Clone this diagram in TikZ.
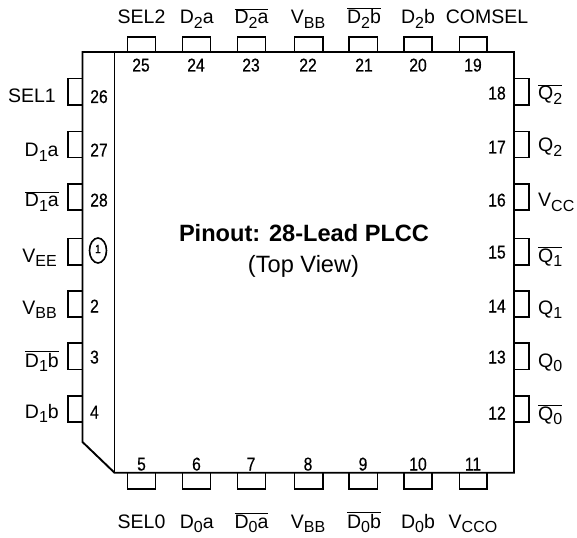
\documentclass[tikz,border=0pt]{standalone}
\usepackage{fontspec}
\usetikzlibrary{shapes.geometric}
\setmainfont{Liberation Sans}
\newfontfamily\numfont[FakeStretch=0.85,FakeBold=0.4]{Liberation Sans}
\newcommand{\sbs}[1]{\raisebox{-0.25em}{\fontsize{16}{16}\selectfont #1}}
\newcommand{\ovl}[1]{$\overline{\hbox{#1}}$}
\tikzset{
  body/.style={line width=1.9pt,line join=miter,line cap=butt,black},
  lab/.style={inner sep=0pt,font=\fontsize{19.5}{20}\selectfont,text=black},
  num/.style={inner sep=0pt,anchor=base,font=\numfont\fontsize{18.5}{18}\selectfont,text=black}
}
\begin{document}
\begin{tikzpicture}[x=1pt,y=-1pt]
\useasboundingbox (0,0) rectangle (577,537);
% package outline
\draw[body] (82.5,52) -- (514,52) -- (514,472.7) -- (114.5,472.7) -- (82.5,442) -- cycle;
\draw[body] (114.5,52) -- (114.5,472.7);
% top and bottom leads
\foreach \a/\b in {127.5/155.5,182.5/210.5,237.5/265.5,294.5/323,349/377.5,404/432,459.5/487}{
  \draw[body] (\a,52) -- (\a,37) -- (\b,37) -- (\b,52);
  \draw[body] (\a,472.7) -- (\a,488.7) -- (\b,488.7) -- (\b,472.7);
}
% left and right leads
\foreach \a/\b in {78.5/105,131.5/157.5,184/210,238.5/265,290.7/317,343/369.5,396/422}{
  \draw[body] (82.5,\a) -- (68,\a) -- (68,\b) -- (82.5,\b);
  \draw[body] (514,\a) -- (529,\a) -- (529,\b) -- (514,\b);
}
% pin numbers
\foreach \n/\x/\y in {25/141/71.5,24/196/71.5,23/251/71.5,22/308/71.5,21/364/71.5,20/418/71.5,19/473/71.5,
  5/141.5/470.5,6/196.5/470.5,7/251/470.5,8/308/470.5,9/363/470.5,10/418/470.5,11/473/470.5,
  26/99/103,27/99/156.5,28/99/206.5,2/94.5/312.5,3/94.5/363.5,4/94.5/418.5,
  18/497/99.5,17/497/153.5,16/497/206.5,15/497/258.5,14/497/312.5,13/497/363.5,12/497/419.5}{
  \node[num] (p\n) at (\x,\y) {\n};
}
\node[draw,ellipse,line width=1.6pt,minimum width=17pt,minimum height=25pt,inner sep=0pt] (p1) at (98,250.5) {\numfont\fontsize{12}{12}\selectfont\raisebox{3pt}{1}};
% top labels
\foreach \i/\t/\x in {sa/SEL2/141.5,sb/D\sbs{2}a/196.7,sc/\ovl{D\sbs{2}a}/251.5,sd/V\sbs{BB}/308,se/\ovl{D\sbs{2}b}/364,sf/D\sbs{2}b/418,sg/COMSEL/487}{
  \node[lab,anchor=base] (\i) at (\x,24) {\t};
}
% bottom labels
\foreach \i/\t/\x in {ba/SEL0/141.5,bb/D\sbs{0}a/196.7,bc/\ovl{D\sbs{0}a}/251.5,bd/V\sbs{BB}/308,be/\ovl{D\sbs{0}b}/364,bf/D\sbs{0}b/418,bg/V\sbs{CCO}/473}{
  \node[lab,anchor=base] (\i) at (\x,528) {\t};
}
% left labels
\foreach \i/\t/\x/\y in {la/SEL1/56/103,lb/D\sbs{1}a/58.7/157,lc/\ovl{D\sbs{1}a}/59/207,ld/V\sbs{EE}/57/262,le/V\sbs{BB}/57/314,lf/\ovl{D\sbs{1}b}/59/367,lg/D\sbs{1}b/59/418}{
  \node[lab,anchor=base east] (\i) at (\x,\y) {\t};
}
% right labels
\foreach \i/\t/\y in {ra/\ovl{Q\sbs{2}}/100,rb/Q\sbs{2}/152,rc/V\sbs{CC}/207,rd/\ovl{Q\sbs{1}}/262,re/Q\sbs{1}/314,rf/Q\sbs{0}/367,rg/\ovl{Q\sbs{0}}/420}{
  \node[lab,anchor=base west] (\i) at (538,\y) {\t};
}
% title
\node[inner sep=0pt,anchor=base,font=\bfseries\fontsize{23.6}{24}\selectfont] (title) at (304,241) {Pinout: 28-Lead PLCC};
\node[inner sep=0pt,anchor=base,font=\fontsize{23.6}{24}\selectfont,text=black] (sub) at (303.5,272) {(Top View)};
\end{tikzpicture}
\end{document}
